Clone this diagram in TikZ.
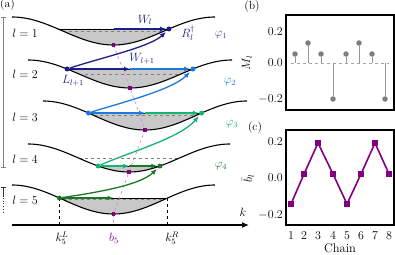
\documentclass[tikz,border=0pt]{standalone}
\usetikzlibrary{arrows.meta}
\definecolor{navyc}{RGB}{28,28,138}
\definecolor{phione}{RGB}{60,60,175}
\definecolor{bluec}{RGB}{30,120,225}
\definecolor{tealc}{RGB}{20,180,110}
\definecolor{dgreenc}{RGB}{25,120,35}
\definecolor{purplec}{RGB}{128,0,128}
\definecolor{pdashc}{RGB}{210,140,225}
\definecolor{fillc}{RGB}{200,200,200}
\definecolor{stemc}{RGB}{150,150,150}
\definecolor{stemdotc}{RGB}{125,125,125}
\begin{document}
\begin{tikzpicture}[x=1pt,y=-1pt,font=\fontsize{11.7}{14}\selectfont,
  bandline/.style={line width=1.1pt,black},
  bandfill/.style={fill=fillc},
  refdash/.style={gray,dashed,line width=0.7pt},
  fermi/.style={black,line width=0.9pt},
  harrow/.style={line width=1.5pt,-{Latex[length=6pt,width=5pt]}},
  carrow/.style={line width=1.3pt,-{Latex[length=6pt,width=5pt]},shorten >=1.5pt},
  dotn/.style={circle,fill=#1,inner sep=0pt,minimum size=5pt},
  bsq/.style={rectangle,fill=purplec,inner sep=0pt,minimum size=3.5pt},
  pdash/.style={pdashc,dashed,line width=0.7pt},
  frame/.style={black,line width=1.2pt},
  stemline/.style={stemc,line width=0.9pt},
  stemdot/.style={circle,fill=stemdotc,inner sep=0pt,minimum size=5.5pt},
  csq/.style={rectangle,fill=purplec,inner sep=0pt,minimum size=6pt},
  tick/.style={anchor=east,inner sep=0pt}]
\useasboundingbox (0,0) rectangle (395,254);

% ---- fills
\fill[bandfill] plot[domain=58.1:168.9,samples=40] (\x,{31-14*cos((\x-12)/203*360)}) -- cycle;
\fill[bandfill] plot[domain=67.1:192.9,samples=40] (\x,{74-14*cos((\x-28)/204*360)}) -- cycle;
\fill[bandfill] plot[domain=88.4:201.6,samples=40] (\x,{115.5-14.5*cos((\x-43)/204*360)}) -- cycle;
\fill[bandfill] plot[domain=98.05:159.95,samples=40] (\x,{158-14*cos((\x-28)/202*360)}) -- cycle;
\fill[bandfill] plot[domain=59.4:167.6,samples=40] (\x,{199.5-14.5*cos((\x-12)/203*360)}) -- cycle;

% ---- reference dashed lines
\draw[refdash] (62.75,31) -- (164.25,31);
\draw[refdash] (79,74) -- (181,74);
\draw[refdash] (94,115.5) -- (196,115.5);
\draw[refdash] (78.5,158) -- (179.5,158);
\draw[refdash] (62.75,199.5) -- (164.25,199.5);

% ---- Fermi lines
\draw[fermi] (58.1,29) -- (168.9,29);
\draw[fermi] (67.1,69) -- (192.9,69);
\draw[fermi] (88.4,113) -- (201.6,113);
\draw[fermi] (98.05,166) -- (159.95,166);
\draw[fermi] (59.4,198) -- (167.6,198);

% ---- band curves
\draw[bandline] plot[domain=12:215,samples=80] (\x,{31-14*cos((\x-12)/203*360)});
\draw[bandline] plot[domain=28:232,samples=80] (\x,{74-14*cos((\x-28)/204*360)});
\draw[bandline] plot[domain=43:247,samples=80] (\x,{115.5-14.5*cos((\x-43)/204*360)});
\draw[bandline] plot[domain=28:230,samples=80] (\x,{158-14*cos((\x-28)/202*360)});
\draw[bandline] plot[domain=12:215,samples=80] (\x,{199.5-14.5*cos((\x-12)/203*360)});

% ---- k axis
\coordinate (ax0) at (12,225);
\coordinate (ax1) at (249,225);
\draw[line width=1.6pt,-{Latex[length=7pt,width=6pt]}] (ax0) -- (ax1);
\node[font=\fontsize{13}{15}\selectfont] (klab) at (243,212) {$k$};
\coordinate (K5L) at (59.4,198);
\coordinate (K5R) at (167.6,198);
\coordinate (A5L) at (59.4,225);
\coordinate (A5R) at (167.6,225);
\draw[dashed,line width=0.8pt] (K5L) -- (A5L);
\draw[dashed,line width=0.8pt] (K5R) -- (A5R);
\node (k5l) at (62,238) {$k_5^L$};
\node[text=purplec] (b5) at (114,238) {$b_5$};
\node (k5r) at (172,238) {$k_5^R$};

% ---- purple minima line
\node[bsq] (q1) at (113.5,45) {};
\node[bsq] (q2) at (130,88) {};
\node[bsq] (q3) at (145,130) {};
\node[bsq] (q4) at (129,172) {};
\node[bsq] (q5) at (113.5,214) {};
\coordinate (q6) at (113.5,225);
\draw[pdash] (q1.center) -- (q2.center) -- (q3.center) -- (q4.center) -- (q5.center) -- (q6);
\node[bsq] at (q1) {};
\node[bsq] at (q2) {};
\node[bsq] at (q3) {};
\node[bsq] at (q4) {};
\node[bsq] at (q5) {};

% ---- dots
\node[dotn=navyc] (R1) at (168.9,29) {};
\node[dotn=navyc] (L2) at (67.1,69) {};
\node[dotn=bluec] (R2) at (192.9,69) {};
\node[dotn=bluec] (L3) at (88.4,113) {};
\node[dotn=tealc] (R3) at (201.6,113) {};
\node[dotn=tealc] (L4) at (98.05,166) {};
\node[dotn=dgreenc] (R4) at (159.95,166) {};
\node[dotn=dgreenc] (L5) at (59.4,198) {};
\coordinate (M1) at (113.5,29);
\coordinate (M2) at (130,69);
\coordinate (M3) at (145,113);
\coordinate (M4) at (129,166);
\coordinate (M5) at (113.5,198);

% ---- horizontal arrows
\draw[harrow,navyc] (M1) -- (R1);
\draw[harrow,bluec] (M2) -- (R2);
\draw[harrow,navyc] (L2) -- (M2);
\draw[harrow,tealc] (M3) -- (R3);
\draw[harrow,bluec] (L3) -- (M3);
\draw[harrow,dgreenc] (M4) -- (R4);
\draw[harrow,tealc] (L4) -- (M4);
\draw[harrow,dgreenc] (L5) -- (M5);

% ---- curved arrows
\draw[carrow,navyc] (L2) .. controls (100,58) and (150,47) .. (R1);
\draw[carrow,bluec] (L3) .. controls (120,103) and (172,90) .. (R2);
\draw[carrow,tealc] (L4) .. controls (130,152) and (180,138) .. (R3);
\draw[carrow,dgreenc] (L5) .. controls (100,192) and (140,185) .. (R4);

% ---- labels panel a
\node[text=navyc] (Wl) at (145,20) {$W_l$};
\node[text=navyc] (Rl) at (188,33) {$R_l^\dagger$};
\node[text=navyc] (Wl1) at (142,59) {$W_{l+1}$};
\node[text=navyc] (Ll1) at (73,81) {$L_{l+1}$};
\node[text=phione] (phi1) at (221,35) {$\varphi_1$};
\node[text=bluec] (phi2) at (230,82) {$\varphi_2$};
\node[text=tealc] (phi3) at (232,124) {$\varphi_3$};
\node[text=dgreenc] (phi4) at (221,166) {$\varphi_4$};
\node (l1) at (25,33) {$l=1$};
\node (l2) at (25,74) {$l=2$};
\node (l3) at (25,117) {$l=3$};
\node (l4) at (25,159) {$l=4$};
\node (l5) at (25,200) {$l=5$};
\node[anchor=west,inner sep=0pt] (pa) at (0,5) {(a)};

% ---- left brackets
\draw[gray,line width=0.6pt] (3,17) -- (3,167);
\draw[gray,line width=0.6pt] (0.5,17) -- (5.5,17);
\draw[gray,line width=0.6pt] (0.5,167) -- (5.5,167);
\draw[black!80,line width=0.5pt] (3,187) -- (3,197);
\draw[black!80,line width=0.5pt] (0.5,187) -- (5.5,187);
\draw[black!80,line width=0.7pt,dotted] (3,198) -- (3,213);

% ---- panel b
\node (pb) at (252,7) {(b)};
\draw[frame] (286,15) rectangle (394,110);
\node[tick] (tb1) at (283,32) {$0.2$};
\node[tick] (tb2) at (283,63) {$0.0$};
\node[tick] (tb3) at (283,99) {$-0.2$};
\node[rotate=90] (Ml) at (247,63) {$M_l$};
\draw[gray!70,dashed,line width=0.9pt] (291,63) -- (389,63);
\foreach \i/\xx/\yy in {1/295/54,2/308/43,3/321/54,4/333/99,5/346/54,6/359/43,7/372/54,8/385/99}{
  \coordinate (sb\i) at (\xx,63);
  \node[stemdot] (sd\i) at (\xx,\yy) {};
  \draw[stemline] (sb\i) -- (sd\i);
}

% ---- panel c
\node (pc) at (255,128) {(c)};
\draw[frame] (286,130) rectangle (394,225);
\node[tick] (tc1) at (283,142) {$0.2$};
\node[tick] (tc2) at (283,178) {$0.0$};
\node[tick] (tc3) at (283,215) {$-0.2$};
\node[rotate=90] (bl) at (248,178) {$\bar{b}_l$};
\foreach \i/\xx/\yy in {1/291/204,2/304/174,3/318/143,4/333/174,5/347/204,6/361/174,7/375/143,8/389/174}{
  \node[csq] (c\i) at (\xx,\yy) {};
  \node (ct\i) at (\xx,236) {$\i$};
}
\draw[purplec,line width=1.6pt] (c1.center) -- (c2.center) -- (c3.center) -- (c4.center) -- (c5.center) -- (c6.center) -- (c7.center) -- (c8.center);
\node[font=\fontsize{12.5}{15}\selectfont] (chain) at (340,248) {Chain};
\end{tikzpicture}
\end{document}
